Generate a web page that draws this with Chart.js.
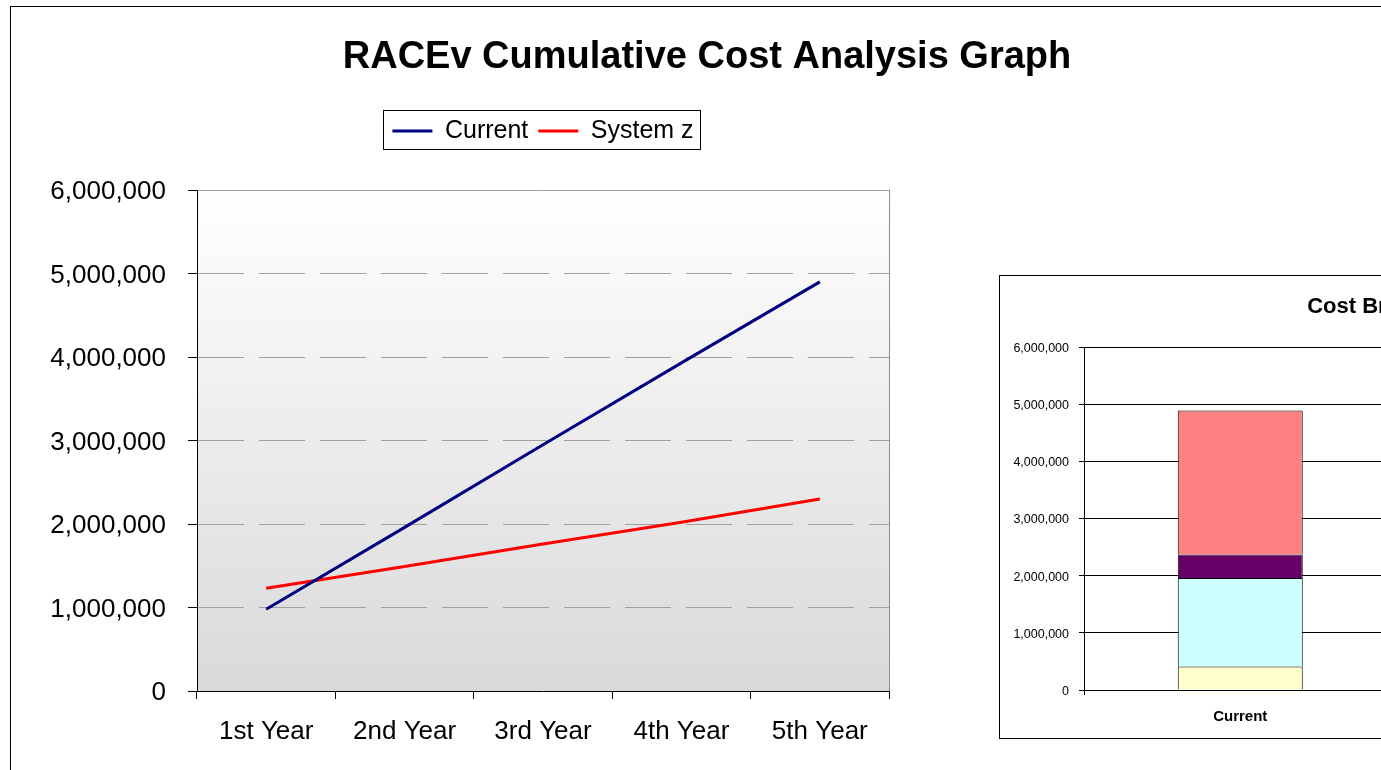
<!DOCTYPE html>
<html>
<head>
<meta charset="utf-8">
<title>RACEv Cumulative Cost Analysis Graph</title>
<script src="https://cdn.jsdelivr.net/npm/chart.js@4/dist/chart.umd.min.js"></script>
<style>
  html, body { margin: 0; padding: 0; background: #fff; overflow: hidden; }
  body { width: 1381px; height: 770px; position: relative; }
  #frame { position: absolute; left: 10px; top: 6px; width: 1400px; height: 800px; border-top: 1px solid #000; border-left: 1px solid #000; }
  #lineChart { position: absolute; left: 11px; top: 7px; }
  #costBox { position: absolute; left: 999px; top: 275px; width: 788px; height: 462px; border: 1px solid #000; background: #fff; }
  #costBox canvas { display: block; }
</style>
</head>
<body>
<div id="frame"></div>
<canvas id="lineChart" width="1392" height="763"></canvas>
<div id="costBox"><canvas id="costChart" width="788" height="462"></canvas></div>
<script>
// Cumulative cost per year
const years = ['1st Year', '2nd Year', '3rd Year', '4th Year', '5th Year'];
const currentCost = [980000, 1960000, 2950000, 3930000, 4900000];
const systemZCost = [1230000, 1490000, 1760000, 2020000, 2300000];
const yTickStep = 1000000;
const yTickMax = 6000000;

// Cost breakdown (second chart, only the "Current" bar is visible)
const breakdownGroups = ['Current', 'System z'];
const partYellow = [410000, null];
const partCyan = [1550000, null];
const partPurple = [410000, null];
const partSalmon = [2520000, null];

Chart.defaults.font.family = '"Liberation Sans", Arial, Helvetica, sans-serif';
Chart.defaults.color = '#000';

const fmt = v => Number(v).toLocaleString('en-US');

// gradient plot area + gray right border
const plotBackground = {
  id: 'plotBackground',
  beforeDraw(chart) {
    const {ctx, chartArea: a} = chart;
    const g = ctx.createLinearGradient(0, a.top, 0, a.bottom);
    g.addColorStop(0, '#ffffff');
    g.addColorStop(1, '#d9d9d9');
    ctx.save();
    ctx.fillStyle = g;
    ctx.fillRect(a.left, a.top, a.right - a.left, a.bottom - a.top);
    ctx.restore();
  },
  beforeDatasetsDraw(chart) {
    const {ctx, chartArea: a} = chart;
    ctx.save();
    ctx.strokeStyle = '#8c8c8c';
    ctx.lineWidth = 1;
    ctx.beginPath();
    ctx.moveTo(Math.round(a.right) + 0.5, a.top);
    ctx.lineTo(Math.round(a.right) + 0.5, a.bottom);
    ctx.stroke();
    ctx.restore();
  }
};

// box around legend, and some room below it
const legendFrame = {
  id: 'legendFrame',
  afterInit(chart) {
    const lg = chart.legend;
    if (!lg) return;
    const fit = lg.fit;
    lg.fit = function () { fit.call(this); this.height += 36.4; };
  },
  afterDraw(chart) {
    const boxes = chart.legend && chart.legend.legendHitBoxes;
    if (!boxes || !boxes.length) return;
    const first = boxes[0], last = boxes[boxes.length - 1];
    const x1 = Math.round(first.left - 9) + 0.5;
    const x2 = Math.round(last.left + last.width + 6) + 0.5;
    const y1 = Math.round(first.top - 9) + 0.5;
    const y2 = Math.round(first.top + first.height + 5) + 0.5;
    const ctx = chart.ctx;
    ctx.save();
    ctx.strokeStyle = '#000';
    ctx.lineWidth = 1;
    ctx.strokeRect(x1, y1, x2 - x1, y2 - y1);
    ctx.restore();
  }
};

// empty axis on the right that only reserves room
const spacerAxis = width => ({
  type: 'linear',
  position: 'right',
  display: true,
  grid: { display: false },
  border: { display: false },
  ticks: { display: false },
  afterFit(scale) { scale.width = width; }
});

new Chart(document.getElementById('lineChart'), {
  type: 'line',
  data: {
    labels: years,
    datasets: [
      { label: 'Current', data: currentCost, borderColor: '#000080', backgroundColor: '#000080', borderWidth: 3, pointRadius: 0, tension: 0 },
      { label: 'System z', data: systemZCost, borderColor: '#ff0000', backgroundColor: '#ff0000', borderWidth: 3, pointRadius: 0, tension: 0 }
    ]
  },
  options: {
    responsive: false,
    animation: false,
    layout: { padding: 0 },
    plugins: {
      title: {
        display: true,
        text: 'RACEv Cumulative Cost Analysis Graph',
        font: { size: 38, weight: 'bold' },
        color: '#000',
        padding: { top: 28, bottom: 28 }
      },
      legend: {
        position: 'top',
        fullSize: false,
        labels: {
          usePointStyle: true,
          pointStyle: 'line',
          pointStyleWidth: 40,
          padding: 10,
          font: { size: 25 },
          color: '#000'
        }
      },
      tooltip: { enabled: false }
    },
    scales: {
      x: {
        offset: true,
        grid: { offset: true, drawOnChartArea: false, tickLength: 8, color: '#000' },
        border: { color: '#000', width: 1 },
        ticks: { font: { size: 26 }, color: '#000', padding: 17, maxRotation: 0 },
        afterFit(scale) { scale.height = 79; }
      },
      y: {
        min: 0,
        max: yTickMax,
        grid: {
          color: ctx => ctx.tick && ctx.tick.value === 0 ? 'rgba(0,0,0,0)' : '#a0a0a0',
          tickColor: '#000',
          tickLength: 9
        },
        border: {
          color: '#000',
          width: 1,
          dash: ctx => ctx.tick && ctx.tick.value === yTickMax ? [] : [46, 15]
        },
        ticks: { stepSize: yTickStep, font: { size: 26 }, color: '#000', padding: 22, labelOffset: 2, callback: fmt },
        afterFit(scale) { scale.width = 186; }
      },
      spacer: spacerAxis(514)
    }
  },
  plugins: [plotBackground, legendFrame]
});

const partColors = ['#ffffcc', '#ccffff', '#660066', '#ff8080'];
const partData = [partYellow, partCyan, partPurple, partSalmon];

new Chart(document.getElementById('costChart'), {
  type: 'bar',
  data: {
    labels: breakdownGroups,
    datasets: partData.map((d, i) => ({
      label: 'Part ' + (i + 1),
      data: d,
      backgroundColor: partColors[i],
      borderColor: '#000',
      borderWidth: 1,
      barPercentage: 0.4,
      categoryPercentage: 1.0
    }))
  },
  options: {
    responsive: false,
    animation: false,
    layout: { padding: 0 },
    plugins: {
      title: {
        display: true,
        text: 'Cost Breakdown',
        font: { size: 22, weight: 'bold' },
        color: '#000',
        padding: { top: 18, bottom: 26.6 }
      },
      legend: { display: false },
      tooltip: { enabled: false }
    },
    scales: {
      x: {
        stacked: true,
        offset: true,
        grid: { offset: true, drawOnChartArea: false, tickLength: 5, color: '#000' },
        border: { color: '#000', width: 1 },
        ticks: { font: { size: 15, weight: 'bold' }, color: '#000', padding: 13 },
        afterFit(scale) { scale.height = 48; }
      },
      y: {
        stacked: true,
        min: 0,
        max: yTickMax,
        grid: { color: '#000', tickLength: 5 },
        border: { color: '#000', width: 1 },
        ticks: { stepSize: yTickStep, font: { size: 12.5 }, color: '#000', padding: 10, labelOffset: 1.5, callback: fmt },
        afterFit(scale) { scale.width = 84; }
      },
      spacer: spacerAxis(79)
    }
  }
});
</script>
</body>
</html>
